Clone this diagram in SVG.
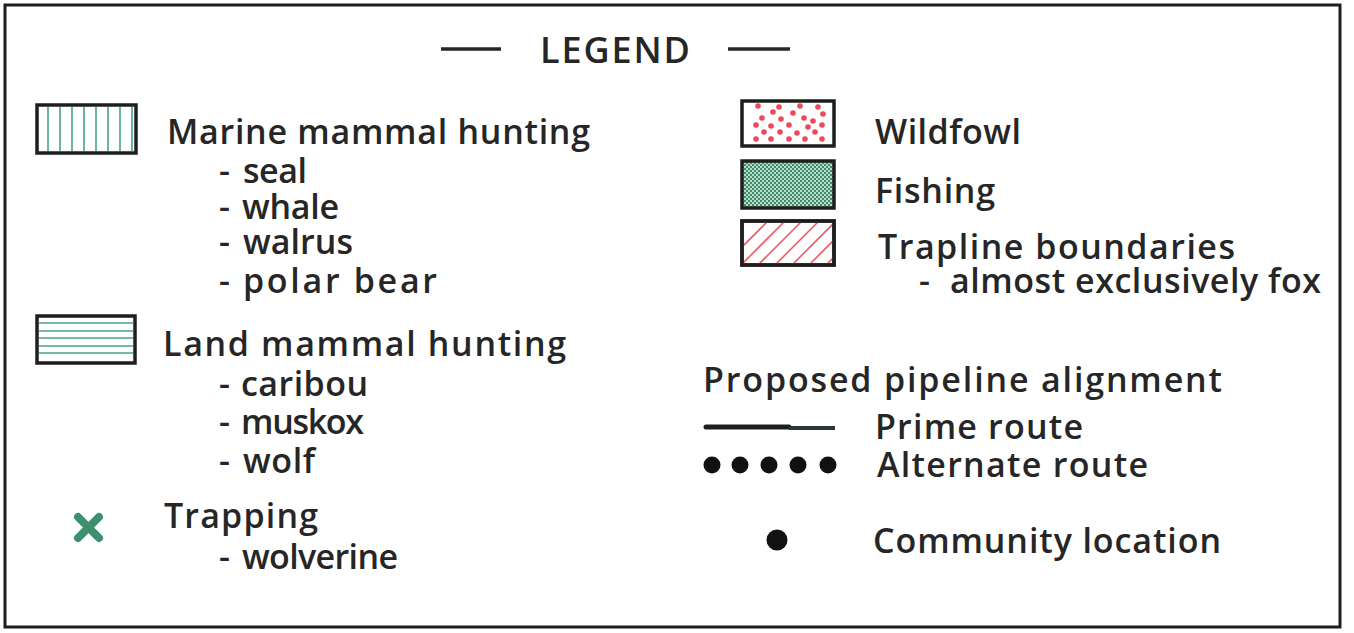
<svg xmlns="http://www.w3.org/2000/svg" width="1354" height="633" viewBox="0 0 1354 633">
<defs>
<style>
.t{font-family:"Open Sans","Liberation Sans",Arial,sans-serif;font-weight:600;font-size:34px;fill:#262626;}
.h{font-family:"Open Sans","Liberation Sans",Arial,sans-serif;font-weight:600;font-size:36px;fill:#262626;}
.box{fill:#ffffff;stroke:#1e1e1e;stroke-width:3.5;}
.gl{stroke:#47a384;stroke-width:1.6;}
.rl{stroke:#ee5a66;stroke-width:1.6;}
.rd{fill:#ec4a58;}
</style>
<pattern id="fish" width="4" height="4" patternUnits="userSpaceOnUse">
<rect width="4" height="4" fill="#b9dccb"/>
<rect x="0" y="0" width="2" height="2" fill="#3d8b6a"/>
<rect x="2" y="2" width="2" height="2" fill="#3d8b6a"/>
</pattern>
<clipPath id="trapclip"><rect x="742" y="221" width="92" height="44"/></clipPath>
</defs>
<rect width="1354" height="633" fill="#ffffff"/>
<rect x="5" y="5" width="1335" height="622" fill="none" stroke="#1e1e1e" stroke-width="3"/>

<g id="title">
<line x1="441" y1="49" x2="501" y2="49" stroke="#262626" stroke-width="3.5"/>
<text class="h" x="540" y="63" textLength="150" lengthAdjust="spacing">LEGEND</text>
<line x1="728" y1="49" x2="790" y2="49" stroke="#262626" stroke-width="3.5"/>
</g>

<g id="marine">
<rect class="box" x="37" y="105" width="99" height="48"/>
<g class="gl">
<line x1="48" y1="107" x2="48" y2="151"/><line x1="60" y1="107" x2="60" y2="151"/>
<line x1="72" y1="107" x2="72" y2="151"/><line x1="84" y1="107" x2="84" y2="151"/>
<line x1="96" y1="107" x2="96" y2="151"/><line x1="108" y1="107" x2="108" y2="151"/>
<line x1="120" y1="107" x2="120" y2="151"/><line x1="132" y1="107" x2="132" y2="151"/>
</g>
<text class="t" x="167" y="144" textLength="423" lengthAdjust="spacing">Marine mammal hunting</text>
<text class="t"><tspan x="219" y="183">-</tspan><tspan x="243" y="183" textLength="64" lengthAdjust="spacing">seal</tspan></text>
<text class="t"><tspan x="219" y="219">-</tspan><tspan x="242" y="219" textLength="97" lengthAdjust="spacing">whale</tspan></text>
<text class="t"><tspan x="219" y="254">-</tspan><tspan x="243" y="254" textLength="110" lengthAdjust="spacing">walrus</tspan></text>
<text class="t"><tspan x="219" y="293">-</tspan><tspan x="243" y="293" textLength="194" lengthAdjust="spacing">polar bear</tspan></text>
</g>

<g id="land">
<rect class="box" x="37" y="316" width="98" height="47"/>
<g class="gl">
<line x1="39" y1="323" x2="133" y2="323"/><line x1="39" y1="331" x2="133" y2="331"/>
<line x1="39" y1="338" x2="133" y2="338"/><line x1="39" y1="346" x2="133" y2="346"/>
<line x1="39" y1="353" x2="133" y2="353"/>
</g>
<text class="t" x="163" y="356" textLength="403" lengthAdjust="spacing">Land mammal hunting</text>
<text class="t"><tspan x="219" y="396">-</tspan><tspan x="241" y="396" textLength="127" lengthAdjust="spacing">caribou</tspan></text>
<text class="t"><tspan x="219" y="434">-</tspan><tspan x="241" y="434" textLength="123" lengthAdjust="spacing">muskox</tspan></text>
<text class="t"><tspan x="219" y="473">-</tspan><tspan x="243" y="473" textLength="72" lengthAdjust="spacing">wolf</tspan></text>
</g>

<g id="trapping">
<g stroke="#3d8f6d" stroke-width="8" stroke-linecap="round">
<line x1="78" y1="517" x2="99" y2="538"/><line x1="99" y1="517" x2="78" y2="538"/>
</g>
<text class="t" x="164" y="528" textLength="154" lengthAdjust="spacing">Trapping</text>
<text class="t"><tspan x="219" y="569">-</tspan><tspan x="242" y="569" textLength="156" lengthAdjust="spacing">wolverine</tspan></text>
</g>

<g id="wildfowl">
<rect class="box" x="742" y="101" width="92" height="45"/>
<g class="rd">
<circle cx="758" cy="106" r="2.8"/><circle cx="779" cy="107" r="2.8"/><circle cx="800" cy="106" r="2.8"/><circle cx="818" cy="107" r="2.8"/>
<circle cx="773" cy="112" r="2.8"/><circle cx="793" cy="113" r="2.8"/><circle cx="823" cy="114" r="2.8"/>
<circle cx="762" cy="118" r="2.8"/><circle cx="781" cy="119" r="2.8"/><circle cx="804" cy="118" r="2.8"/><circle cx="813" cy="121" r="2.8"/>
<circle cx="756" cy="125" r="2.8"/><circle cx="771" cy="126" r="2.8"/><circle cx="789" cy="125" r="2.8"/><circle cx="808" cy="127" r="2.8"/><circle cx="822" cy="125" r="2.8"/>
<circle cx="764" cy="132" r="2.8"/><circle cx="780" cy="132" r="2.8"/><circle cx="797" cy="133" r="2.8"/><circle cx="815" cy="132" r="2.8"/>
<circle cx="756" cy="139" r="2.8"/><circle cx="771" cy="139" r="2.8"/><circle cx="789" cy="139" r="2.8"/><circle cx="805" cy="139" r="2.8"/><circle cx="822" cy="139" r="2.8"/>
</g>
<text class="t" x="875" y="144" textLength="146" lengthAdjust="spacing">Wildfowl</text>
</g>

<g id="fishing">
<rect class="box" x="742" y="161" width="92" height="47" style="fill:url(#fish)"/>
<text class="t" x="875" y="203" textLength="120" lengthAdjust="spacing">Fishing</text>
</g>

<g id="trapline">
<rect class="box" x="742" y="221" width="92" height="44"/>
<g class="rl" clip-path="url(#trapclip)">
<line x1="724" y1="265" x2="768" y2="221"/><line x1="741" y1="265" x2="785" y2="221"/>
<line x1="758" y1="265" x2="802" y2="221"/><line x1="775" y1="265" x2="819" y2="221"/>
<line x1="792" y1="265" x2="836" y2="221"/><line x1="809" y1="265" x2="853" y2="221"/>
<line x1="826" y1="265" x2="870" y2="221"/>
</g>
<rect x="742" y="221" width="92" height="44" fill="none" stroke="#1e1e1e" stroke-width="3.5"/>
<text class="t" x="878" y="259" textLength="357" lengthAdjust="spacing">Trapline boundaries</text>
<text class="t"><tspan x="919" y="293">-</tspan><tspan x="950" y="293" textLength="371" lengthAdjust="spacing">almost exclusively fox</tspan></text>
</g>

<g id="pipeline">
<text class="t" x="703" y="392" textLength="519" lengthAdjust="spacing">Proposed pipeline alignment</text>
</g>

<g id="prime">
<line x1="706" y1="427" x2="789" y2="427" stroke="#1e1e1e" stroke-width="5" stroke-linecap="round"/>
<line x1="789" y1="428" x2="835" y2="428" stroke="#2a3a30" stroke-width="4"/>
<text class="t" x="875" y="439" textLength="208" lengthAdjust="spacing">Prime route</text>
</g>

<g id="alternate">
<g fill="#111111">
<circle cx="712" cy="465" r="8.5"/><circle cx="740" cy="465" r="8.5"/><circle cx="769" cy="465" r="8.5"/><circle cx="798" cy="465" r="8.5"/><circle cx="828" cy="465" r="8.5"/>
</g>
<text class="t" x="877" y="477" textLength="271" lengthAdjust="spacing">Alternate route</text>
</g>

<g id="community">
<circle cx="777" cy="540" r="10.5" fill="#111111"/>
<text class="t" x="873" y="553" textLength="348" lengthAdjust="spacing">Community location</text>
</g>
</svg>
